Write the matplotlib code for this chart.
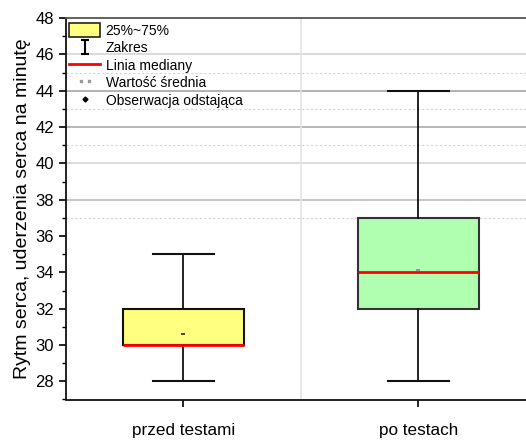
import matplotlib
matplotlib.use('Agg')
import matplotlib.pyplot as plt
from matplotlib.patches import Patch
from matplotlib.lines import Line2D
from matplotlib.path import Path
from matplotlib.ticker import MultipleLocator

plt.rcParams['font.family'] = ['Liberation Sans', 'DejaVu Sans']

# dane: tętno przed i po testach
grupy = ['przed testami', 'po testach']
minimum = [28, 28]
kwartyl_1 = [30, 32]
mediana = [30, 34]
kwartyl_3 = [32, 37]
maksimum = [35, 44]
srednia = [30.6, 34.13]
kolory = ['#ffff80', '#b0ffb0']

# linie siatki (tylko w górnej części wykresu)
siatka_glowna = [38, 40, 42, 44, 46]
siatka_kolory = ['#bcbcbc', '#d6d6d6', '#acacac', '#a4a4a4', '#d6d6d6']
siatka_pomocnicza = [37, 41, 43, 45]


def main():
    fig = plt.figure(figsize=(5.26, 4.41), dpi=100)
    # prawa krawędź wykresu wychodzi poza obraz
    ax = fig.add_axes([66 / 526, (441 - 399.5) / 441, 469.5 / 526, 381.5 / 441])

    statystyki = []
    for i in range(len(grupy)):
        statystyki.append({
            'whislo': minimum[i], 'q1': kwartyl_1[i], 'med': mediana[i],
            'q3': kwartyl_3[i], 'whishi': maksimum[i], 'mean': srednia[i],
            'fliers': [], 'label': grupy[i],
        })

    pozycje = [1, 2]
    bp = ax.bxp(statystyki, positions=pozycje, widths=0.515, capwidths=0.26,
                patch_artist=True, showmeans=True, zorder=3,
                boxprops=dict(edgecolor='#111111', linewidth=1.5),
                whiskerprops=dict(color='#111111', linewidth=1.3),
                capprops=dict(color='#111111', linewidth=1.5),
                medianprops=dict(color='#ff0000', linewidth=2.0),
                meanprops=dict(marker='_', markeredgecolor='#222222',
                               markersize=3, markeredgewidth=1.2))
    for box, kolor in zip(bp['boxes'], kolory):
        box.set_facecolor(kolor)
    bp['boxes'][1].set_edgecolor('#333333')
    bp['means'][1].set_markeredgecolor('#888888')

    # oś Y
    ax.set_ylim(27, 48)
    ax.yaxis.set_major_locator(MultipleLocator(2))
    ax.yaxis.set_minor_locator(MultipleLocator(1))
    ax.set_xlim(0.5, 2.5)
    ax.set_xticks(pozycje)
    ax.set_xticklabels(grupy)
    ax.tick_params(axis='both', labelsize=12, direction='out', width=1.2)
    ax.tick_params(axis='x', labelsize=12.3, length=5, pad=12)
    ax.tick_params(axis='y', which='major', length=5)
    ax.tick_params(axis='y', which='minor', length=3, width=1.0)
    ax.set_ylabel('Rytm serca, uderzenia serca na minutę', fontsize=14, labelpad=3)

    # siatka
    for y, c in zip(siatka_glowna, siatka_kolory):
        ax.axhline(y, color=c, linewidth=1.2, zorder=0)
    for y in siatka_pomocnicza:
        ax.axhline(y, color='#d4d4d4', linewidth=0.8, linestyle=(0, (2, 2)), zorder=0)
    ax.axvline(1.5, color='#e4e4e4', linewidth=1.2, zorder=0)

    for s in ['left', 'bottom']:
        ax.spines[s].set_linewidth(1.3)
        ax.spines[s].set_color('#111111')
    ax.spines['top'].set_color('#555555')
    ax.spines['top'].set_linewidth(1.3)
    ax.spines['right'].set_visible(False)

    # legenda
    zakres = Path([(0, -1), (0, 1), (-0.55, 1), (0.55, 1), (-0.55, -1), (0.55, -1)],
                  [Path.MOVETO, Path.LINETO, Path.MOVETO, Path.LINETO,
                   Path.MOVETO, Path.LINETO])
    uchwyty = [
        Patch(facecolor=kolory[0], edgecolor='#222222', linewidth=1.2),
        Line2D([], [], linestyle='none', marker=zakres, markersize=10,
               markeredgecolor='black', markeredgewidth=1.5),
        Line2D([], [], color='#ff0000', linewidth=2),
        Line2D([], [], linestyle='none', marker=r'$\cdot\cdot$', color='#999999',
               markersize=7),
        Line2D([], [], linestyle='none', marker='D', color='black',
               markersize=2.5),
    ]
    etykiety = ['25%~75%', 'Zakres', 'Linia mediany', 'Wartość średnia',
                'Obserwacja odstająca']
    ax.legend(uchwyty, etykiety, loc='upper left', bbox_to_anchor=(0.0, 0.995),
              frameon=False, fontsize=10, handlelength=2.2, handleheight=1.1,
              handletextpad=0.4, labelspacing=0.22, borderpad=0.2,
              borderaxespad=0.05)

    plt.savefig('out.png', dpi=100)


if __name__ == '__main__':
    main()
